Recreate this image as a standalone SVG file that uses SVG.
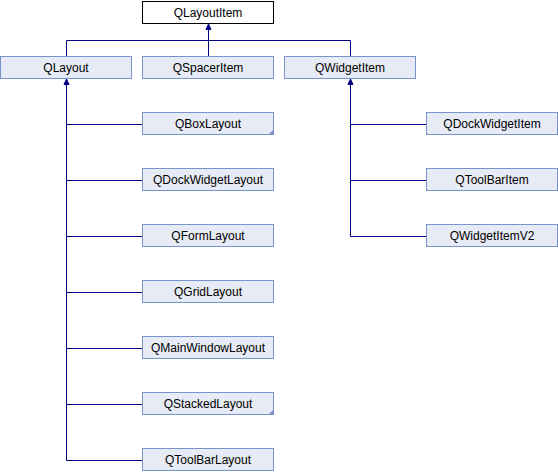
<svg xmlns="http://www.w3.org/2000/svg" width="558" height="472" viewBox="0 0 558 472">
<style>
.n rect{fill:#e7ebf5;stroke:#7b93cd;stroke-width:1}
.n text{font-family:"Liberation Sans",Arial,sans-serif;font-size:12px;fill:#000;text-anchor:middle}
.root rect{fill:#fff;stroke:#000}
.c path.l{fill:none;stroke:#000080;stroke-width:1}
.c path.a{fill:#000080;stroke:#000080;stroke-width:1}
.corner{fill:#7b93cd;stroke:none}
</style>
<rect width="558" height="472" fill="#fff"/>
<g class="c" id="connectors">
<path class="l" d="M66.5,56.5 V40.5 H350.5 V56.5 M208.5,56.5 V29"/>
<path class="a" d="M208.5,24 L211,29.5 L206,29.5 Z"/>
<path class="l" d="M66.5,84 V460.5 H142.5 M66.5,124.5 H142.5 M66.5,180.5 H142.5 M66.5,236.5 H142.5 M66.5,292.5 H142.5 M66.5,348.5 H142.5 M66.5,404.5 H142.5"/>
<path class="a" d="M66.5,79 L69,84.5 L64,84.5 Z"/>
<path class="l" d="M350.5,84 V236.5 H426.5 M350.5,124.5 H426.5 M350.5,180.5 H426.5"/>
<path class="a" d="M350.5,79 L353,84.5 L348,84.5 Z"/>
</g>
<g class="n root" id="QLayoutItem"><rect x="142.5" y="1.5" width="131" height="22"/><text x="208" y="16.5">QLayoutItem</text></g>
<g class="n" id="QLayout"><rect x="0.5" y="56.5" width="131" height="22"/><text x="66" y="71.5">QLayout</text></g>
<g class="n" id="QSpacerItem"><rect x="142.5" y="56.5" width="131" height="22"/><text x="208" y="71.5">QSpacerItem</text></g>
<g class="n" id="QWidgetItem"><rect x="284.5" y="56.5" width="131" height="22"/><text x="350" y="71.5">QWidgetItem</text></g>
<g class="n" id="QBoxLayout"><rect x="142.5" y="112.5" width="131" height="22"/><path class="corner" d="M274,129 V135 H268 Z"/><text x="208" y="127.5">QBoxLayout</text></g>
<g class="n" id="QDockWidgetLayout"><rect x="142.5" y="168.5" width="131" height="22"/><text x="208" y="183.5">QDockWidgetLayout</text></g>
<g class="n" id="QFormLayout"><rect x="142.5" y="224.5" width="131" height="22"/><text x="208" y="239.5">QFormLayout</text></g>
<g class="n" id="QGridLayout"><rect x="142.5" y="280.5" width="131" height="22"/><text x="208" y="295.5">QGridLayout</text></g>
<g class="n" id="QMainWindowLayout"><rect x="142.5" y="336.5" width="131" height="22"/><text x="208" y="351.5">QMainWindowLayout</text></g>
<g class="n" id="QStackedLayout"><rect x="142.5" y="392.5" width="131" height="22"/><path class="corner" d="M274,409 V415 H268 Z"/><text x="208" y="407.5">QStackedLayout</text></g>
<g class="n" id="QToolBarLayout"><rect x="142.5" y="448.5" width="131" height="22"/><text x="208" y="463.5">QToolBarLayout</text></g>
<g class="n" id="QDockWidgetItem"><rect x="426.5" y="112.5" width="131" height="22"/><text x="492" y="127.5">QDockWidgetItem</text></g>
<g class="n" id="QToolBarItem"><rect x="426.5" y="168.5" width="131" height="22"/><text x="492" y="183.5">QToolBarItem</text></g>
<g class="n" id="QWidgetItemV2"><rect x="426.5" y="224.5" width="131" height="22"/><text x="492" y="239.5">QWidgetItemV2</text></g>
</svg>
